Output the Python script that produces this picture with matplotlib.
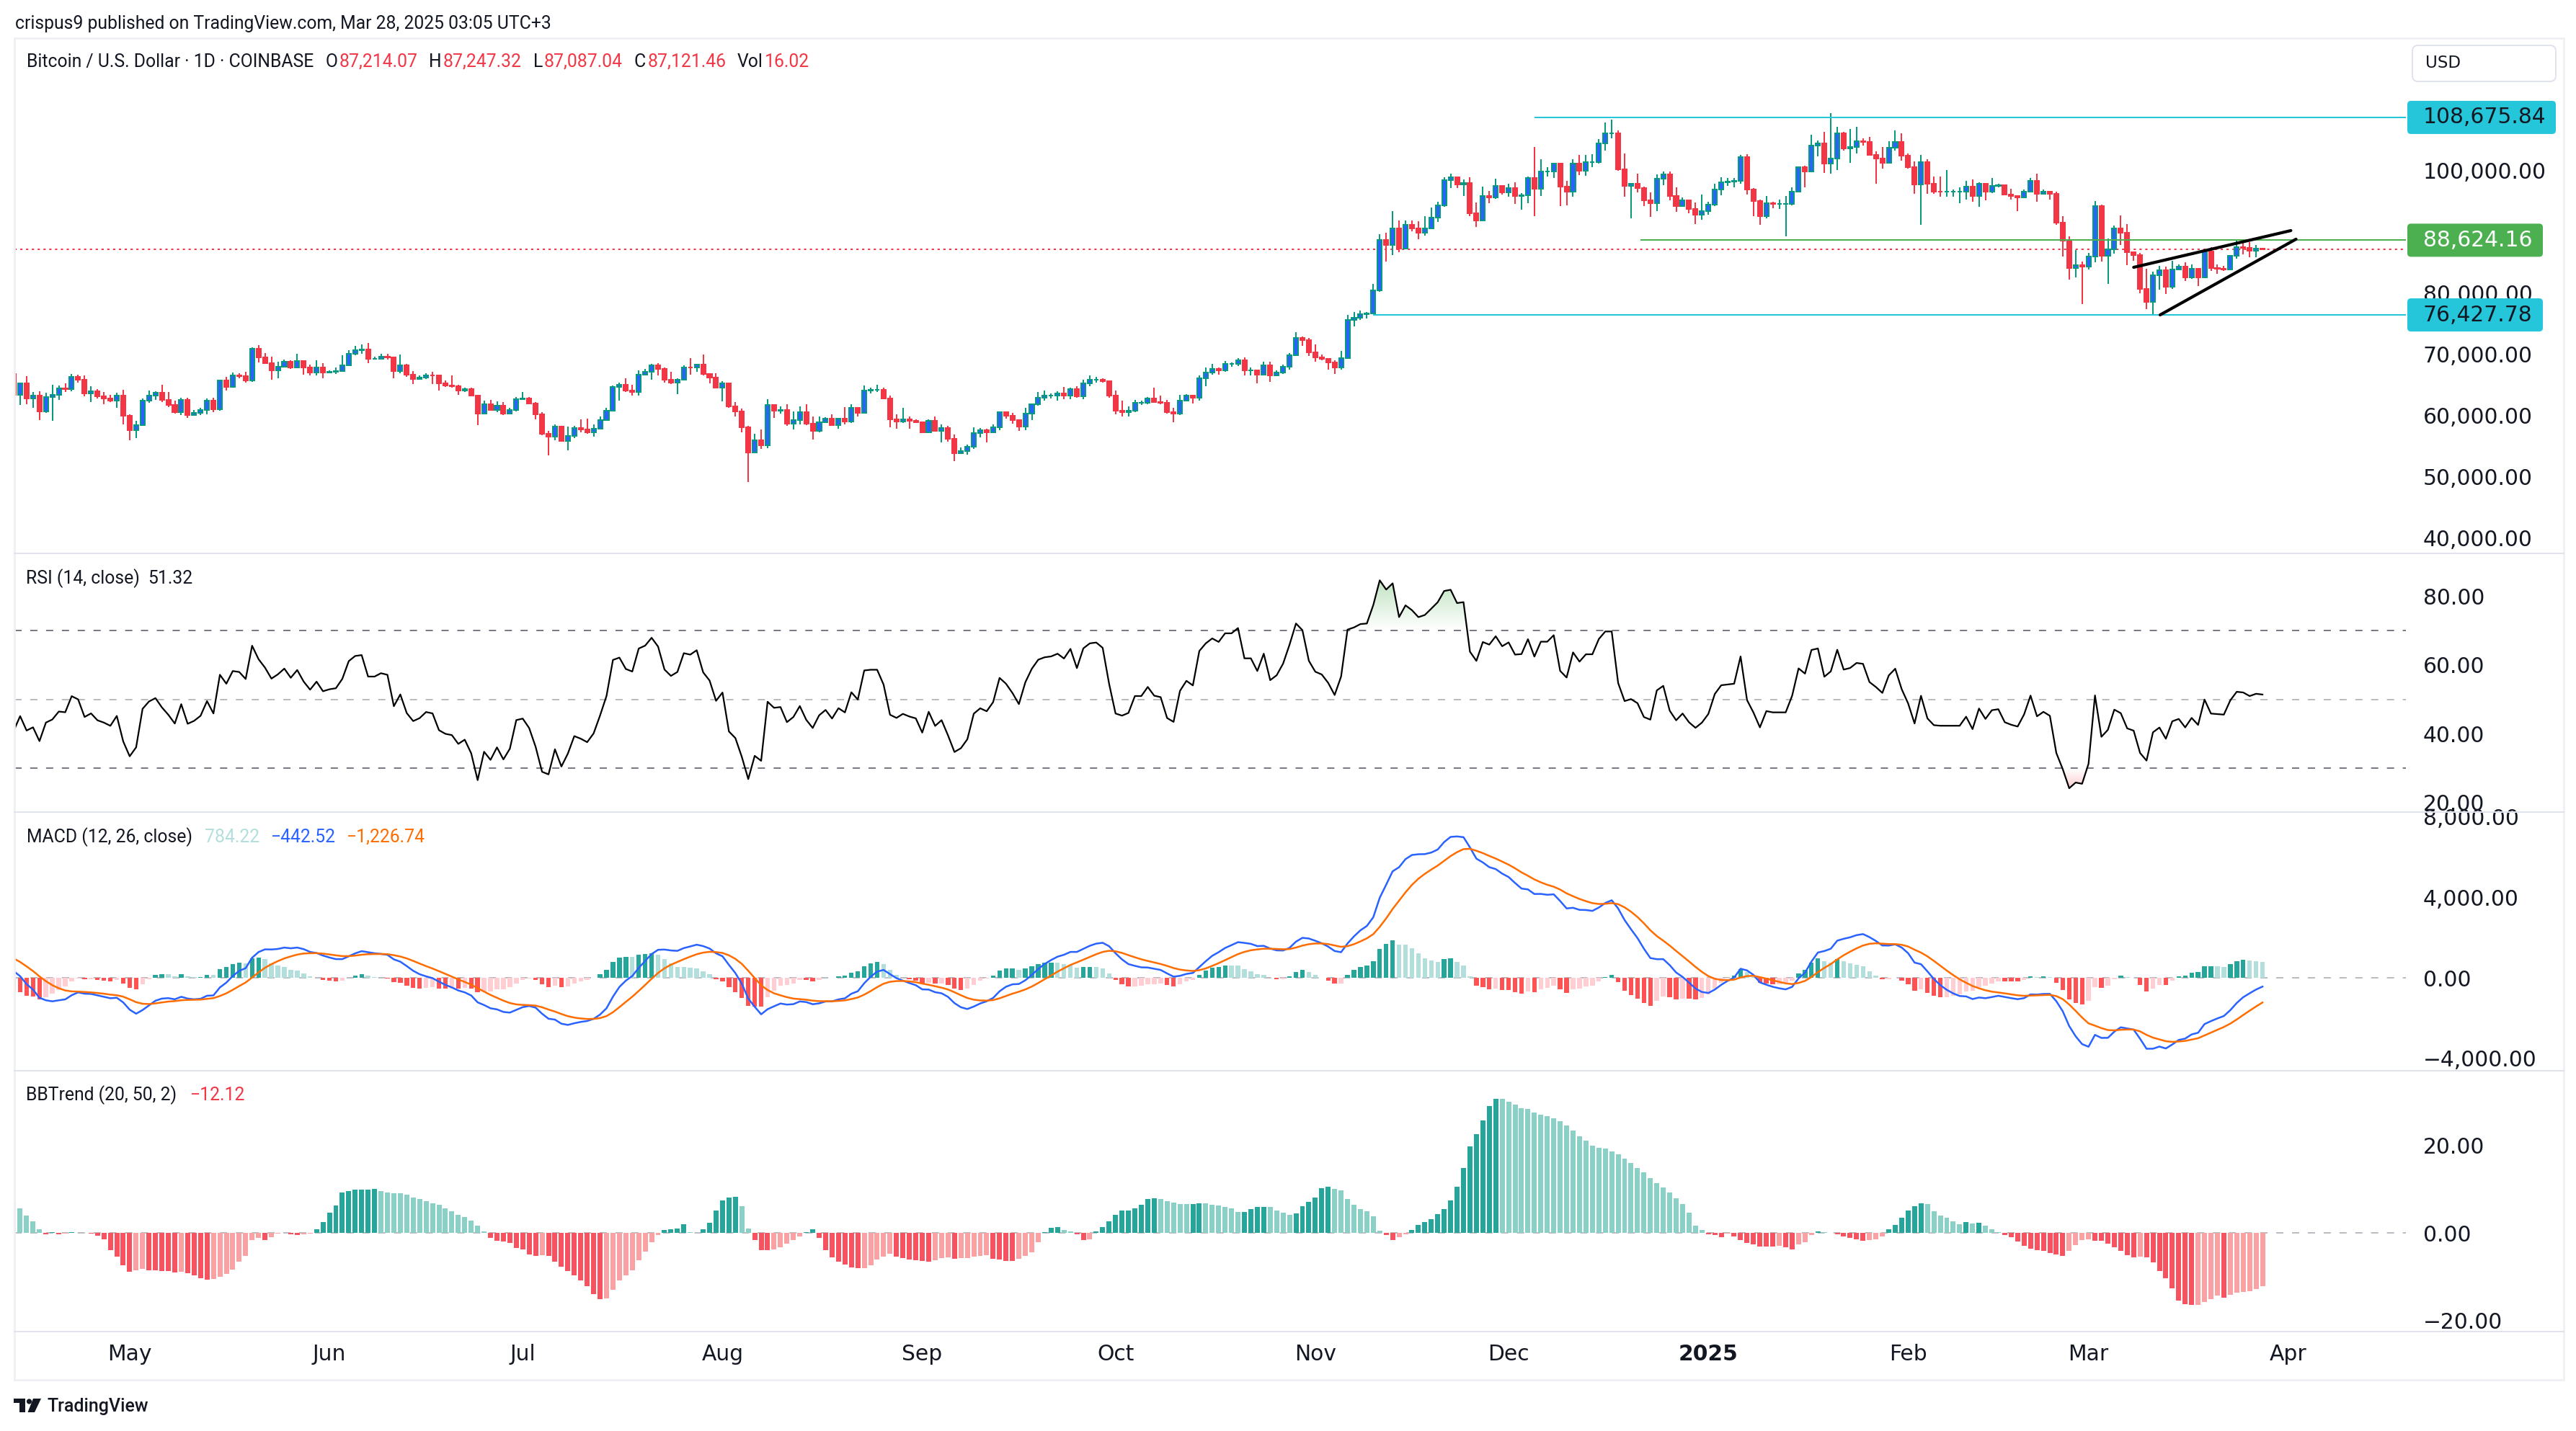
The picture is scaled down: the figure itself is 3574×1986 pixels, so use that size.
import numpy as np
import pandas as pd
import matplotlib
matplotlib.use("Agg")
import matplotlib.pyplot as plt
from matplotlib.patches import Rectangle, FancyBboxPatch, Polygon, Circle, PathPatch
from matplotlib.path import Path
from matplotlib.transforms import Affine2D
from matplotlib.ticker import FixedLocator, FuncFormatter
from matplotlib.colors import to_rgb

plt.rcParams['lines.scale_dashes'] = False

W, H, DPI = 3574, 1986, 200

# ---------------- data: BTC/USD daily, Coinbase, prices in thousands ----------------
first_day = '2024-04-13'

# closes before the visible window (Feb 22 - Apr 12 2024), only to warm up the indicators
warm_close = [51.3, 50.7, 51.6, 51.7, 54.5, 57.1, 62.5, 61.2,
              62.4, 62.0, 63.1, 68.3, 63.8, 66.1, 66.9, 68.3, 68.5, 69.0,
              72.1, 71.5, 73.1, 71.4, 69.5, 65.3, 68.4, 67.6, 61.9, 67.8,
              65.5, 63.8, 64.1, 67.2, 70.0, 69.9, 69.4, 71.3, 70.0, 69.6, 71.3,
              69.7, 65.5, 65.9, 68.5, 67.8, 68.9, 69.4, 71.6, 69.2, 70.6, 70.0, 66.8]

apr_c = [63.4, 65.3, 62.8, 63.2, 60.7, 63.0, 63.4, 64.4, 64.3, 66.3, 65.9, 63.6, 64.0, 63.1, 62.8, 62.4, 63.3, 60.0]
apr_h = [68.7, 65.4, 66.4, 63.9, 64.0, 63.7, 65.0, 64.9, 65.2, 66.8, 66.7, 66.5, 64.8, 64.3, 63.9, 63.4, 63.7, 64.2]
apr_l = [60.4, 61.7, 61.9, 61.2, 59.2, 60.4, 59.1, 62.6, 63.8, 64.0, 65.4, 63.1, 62.2, 62.8, 61.9, 62.2, 61.3, 58.6]

may_c = [57.6, 58.4, 62.4, 63.3, 63.7, 62.6, 61.7, 60.6, 62.6, 60.1, 60.4, 60.9, 62.4, 61.0, 65.7, 64.7,
         66.5, 66.4, 65.7, 70.9, 69.5, 68.6, 67.4, 68.0, 68.8, 67.9, 68.9, 67.8, 67.0, 67.9, 67.0]
may_h = [60.2, 59.1, 62.8, 64.1, 64.0, 65.0, 63.9, 62.4, 62.9, 62.9, 60.9, 61.3, 62.8, 62.9, 65.9, 66.3,
         67.0, 66.9, 67.2, 71.1, 71.5, 70.2, 69.6, 68.8, 69.1, 69.0, 70.1, 69.0, 68.3, 69.0, 68.5]
may_l = [56.0, 56.3, 58.4, 62.1, 62.5, 62.2, 61.4, 60.3, 60.1, 59.6, 60.0, 60.1, 60.2, 60.5, 60.8, 64.1,
         64.6, 66.1, 65.4, 65.5, 68.7, 68.4, 65.8, 66.1, 67.9, 67.6, 67.7, 66.7, 66.6, 66.6, 66.1]

jun_c = [67.2, 67.3, 68.2, 70.1, 70.7, 70.8, 69.3, 69.3, 69.6, 69.5, 67.3, 68.2, 66.7, 66.0, 66.2,
         66.6, 66.5, 65.2, 64.9, 64.8, 64.1, 64.3, 63.2, 60.3, 61.8, 60.9, 61.6, 60.3, 60.9, 62.7]
jun_h = [67.4, 67.9, 69.8, 70.7, 71.4, 71.6, 71.9, 69.6, 70.1, 70.1, 69.5, 70.0, 68.4, 67.3, 66.5,
         66.9, 67.2, 66.5, 65.7, 66.5, 65.0, 64.5, 64.5, 63.4, 62.4, 62.5, 62.3, 62.2, 61.2, 63.0]
jun_l = [66.9, 66.8, 67.1, 68.2, 69.9, 70.1, 68.5, 69.2, 69.2, 69.2, 66.1, 66.9, 66.3, 65.1, 65.9,
         66.0, 65.1, 64.1, 64.7, 64.5, 63.4, 63.9, 63.2, 58.4, 60.3, 60.8, 60.6, 60.1, 60.3, 60.7]

jul_c = [62.8, 62.0, 60.2, 57.0, 56.6, 58.2, 55.8, 56.7, 58.0, 57.7, 57.3, 57.9, 59.2, 60.8, 64.7, 65.0,
         64.1, 63.9, 66.7, 67.1, 68.2, 67.6, 65.9, 65.4, 65.8, 67.9, 67.8, 68.3, 66.8, 66.2, 64.6]
jul_h = [63.8, 63.0, 62.2, 60.5, 57.5, 58.5, 58.2, 58.2, 58.3, 59.4, 59.5, 58.5, 59.8, 61.3, 64.9, 65.4,
         66.1, 65.0, 67.4, 67.6, 68.4, 68.5, 67.8, 67.1, 66.1, 68.2, 69.4, 68.3, 70.0, 66.9, 66.9]
jul_l = [62.5, 61.8, 59.4, 56.8, 53.5, 56.0, 55.7, 54.3, 56.3, 57.2, 57.0, 56.5, 57.8, 59.4, 60.7, 62.4,
         63.9, 63.2, 63.3, 66.5, 65.8, 66.6, 65.4, 65.1, 63.5, 65.8, 66.7, 67.1, 66.6, 65.3, 64.5]

aug_c = [65.3, 61.5, 60.7, 58.1, 54.0, 56.0, 55.1, 61.7, 60.8, 60.9, 58.7, 59.3, 60.6, 58.7, 57.5, 58.9,
         59.5, 58.4, 59.5, 59.0, 61.2, 60.4, 64.1, 64.2, 64.2, 62.8, 59.4, 59.0, 59.4, 59.1, 58.9]
aug_h = [65.6, 65.0, 62.2, 61.1, 58.3, 57.0, 57.7, 62.7, 61.7, 61.5, 61.8, 60.7, 61.5, 61.8, 59.8, 59.8,
         59.7, 60.2, 59.6, 61.4, 61.8, 61.4, 64.9, 64.5, 65.0, 64.5, 63.2, 60.2, 61.2, 59.9, 59.4]
aug_l = [62.3, 61.2, 59.9, 57.2, 49.1, 54.0, 54.6, 54.7, 59.6, 60.3, 58.3, 57.7, 58.5, 58.4, 56.1, 57.3,
         58.8, 58.4, 57.8, 58.6, 58.8, 59.8, 60.4, 63.6, 63.8, 62.8, 58.1, 57.9, 58.8, 57.8, 58.8]

sep_c = [57.3, 59.1, 57.5, 58.0, 56.2, 53.9, 54.2, 54.9, 57.1, 57.6, 57.3, 58.1, 60.5, 60.0, 59.2,
         58.2, 60.3, 61.8, 62.9, 63.2, 63.3, 63.6, 63.3, 64.3, 63.1, 65.2, 65.8, 65.9, 65.6, 63.3]
sep_h = [59.0, 59.4, 59.8, 58.5, 58.3, 56.9, 54.8, 55.3, 58.1, 58.0, 57.9, 58.6, 60.6, 60.6, 60.4,
         59.2, 61.3, 61.8, 63.8, 64.1, 63.6, 64.0, 64.7, 64.5, 64.8, 65.8, 66.5, 66.3, 66.1, 65.6]
sep_l = [57.2, 57.2, 57.4, 55.6, 55.7, 52.6, 53.7, 53.6, 54.6, 56.4, 55.6, 57.4, 57.6, 59.5, 58.7,
         57.5, 57.6, 59.2, 61.6, 62.4, 62.8, 62.4, 62.7, 62.7, 62.9, 62.7, 64.8, 65.4, 65.4, 62.9]

oct_c = [60.8, 60.6, 60.8, 62.1, 62.1, 62.8, 62.2, 62.1, 60.6, 60.3, 62.4, 63.2, 62.9, 66.1, 67.0, 67.6,
         67.4, 68.4, 68.4, 69.0, 67.4, 67.4, 66.7, 68.2, 66.6, 67.0, 68.0, 69.9, 72.7, 72.3, 70.3]
oct_h = [64.1, 62.4, 61.5, 62.5, 62.4, 63.0, 64.5, 63.2, 62.5, 61.3, 63.4, 63.5, 63.3, 66.5, 67.9, 68.4,
         67.9, 68.9, 68.7, 69.4, 69.5, 67.8, 67.5, 68.8, 68.8, 67.4, 68.3, 70.2, 73.6, 72.9, 72.7]
oct_l = [60.2, 59.9, 59.8, 60.5, 61.7, 61.8, 62.1, 61.8, 60.3, 58.9, 60.1, 62.4, 62.0, 62.4, 64.8, 66.7,
         66.7, 67.2, 68.0, 68.1, 66.6, 66.6, 65.3, 66.6, 65.5, 66.5, 66.8, 67.5, 69.7, 71.4, 69.7]

nov_c = [69.5, 69.3, 68.7, 67.8, 69.4, 75.6, 76.0, 76.6, 76.7, 80.4, 88.7, 87.9, 90.5, 87.3, 91.1,
         90.6, 89.9, 90.5, 92.3, 94.3, 98.4, 98.9, 97.7, 98.0, 93.0, 91.9, 95.9, 95.6, 97.5, 96.4]
nov_h = [71.6, 70.0, 69.4, 69.0, 70.6, 76.4, 76.9, 77.2, 76.9, 81.5, 89.6, 89.9, 93.4, 91.8, 91.9,
         91.8, 91.7, 92.6, 94.0, 94.9, 98.9, 99.5, 98.8, 98.6, 98.9, 94.8, 97.4, 96.7, 98.7, 97.5]
nov_l = [68.8, 69.0, 67.5, 66.8, 67.5, 69.4, 74.5, 75.6, 75.8, 76.5, 80.2, 85.1, 86.2, 86.7, 87.1,
         90.1, 88.8, 89.4, 90.4, 91.6, 94.1, 97.2, 97.2, 95.8, 92.6, 90.8, 91.8, 94.7, 95.4, 96.1]

dec_c = [97.2, 95.9, 96.0, 98.8, 97.0, 99.9, 99.9, 101.2, 97.4, 96.6, 101.1, 100.0, 101.4, 101.4, 104.4, 106.1,
         106.1, 100.2, 97.5, 97.8, 97.2, 95.1, 94.7, 98.7, 99.4, 95.8, 94.2, 95.1, 93.7, 92.8, 93.4]
dec_h = [97.9, 98.1, 96.3, 99.0, 103.9, 101.9, 100.5, 101.3, 101.2, 98.3, 101.9, 102.5, 102.6, 102.7, 105.1, 107.8,
         108.3, 106.5, 102.8, 98.0, 99.5, 97.4, 96.4, 99.4, 99.9, 99.9, 97.3, 95.6, 95.2, 94.8, 96.1]
dec_l = [95.7, 94.5, 93.6, 94.7, 92.5, 95.9, 99.0, 98.8, 94.2, 94.3, 95.7, 99.3, 99.2, 100.6, 101.2, 103.3,
         105.3, 100.0, 95.7, 92.2, 96.4, 94.2, 92.4, 93.4, 97.6, 95.2, 93.3, 94.1, 93.0, 91.3, 92.0]

jan_c = [94.4, 96.9, 98.1, 98.2, 98.3, 102.2, 96.9, 95.0, 92.5, 94.7, 94.5, 94.5, 94.5, 96.5, 100.5, 99.9,
         104.1, 104.4, 101.1, 102.0, 106.1, 103.6, 103.9, 104.8, 104.7, 102.6, 102.0, 101.3, 103.7, 104.7, 102.4]
jan_h = [94.9, 97.8, 98.9, 98.8, 98.8, 102.5, 102.7, 97.2, 95.3, 95.8, 94.9, 95.3, 95.9, 97.3, 100.7, 100.8,
         105.9, 104.9, 106.3, 109.4, 107.2, 106.3, 106.8, 107.1, 105.3, 105.5, 103.2, 103.8, 104.8, 106.5, 106.1]
jan_l = [92.8, 94.2, 96.0, 97.5, 97.3, 97.9, 96.1, 92.5, 91.2, 92.2, 93.8, 93.7, 89.3, 94.3, 96.4, 97.3,
         100.0, 102.3, 99.6, 99.5, 100.1, 103.3, 101.3, 102.8, 104.1, 102.5, 97.8, 100.3, 101.3, 103.3, 101.6]

feb_c = [100.6, 97.7, 101.4, 97.8, 96.6, 96.5, 96.5, 96.5, 96.5, 97.4, 95.8, 97.9, 96.6, 97.5,
         97.6, 96.1, 95.8, 95.6, 96.6, 98.3, 96.2, 96.6, 96.2, 91.5, 88.6, 84.1, 84.6, 84.3]
feb_h = [102.8, 101.5, 102.5, 101.8, 99.0, 99.0, 100.1, 96.9, 97.3, 98.3, 98.5, 98.1, 98.0, 98.8,
         97.9, 97.7, 97.0, 96.0, 96.9, 98.8, 99.5, 96.9, 96.5, 96.5, 92.5, 89.3, 87.0, 85.1]
feb_l = [100.3, 96.2, 91.2, 96.2, 96.2, 95.7, 95.7, 95.7, 94.7, 95.3, 94.9, 94.1, 95.2, 96.3,
         97.3, 96.1, 95.3, 93.4, 95.6, 96.4, 94.9, 96.2, 95.3, 91.2, 86.0, 82.2, 82.6, 78.2]

mar_c = [86.0, 94.2, 86.1, 87.2, 90.6, 89.9, 86.7, 86.2, 80.7, 78.5, 82.9, 83.7, 81.0, 83.9,
         84.3, 82.5, 84.0, 82.6, 86.8, 84.1, 84.0, 83.9, 86.1, 87.5, 87.4, 86.9, 87.21407, 87.12146]
mar_h = [86.6, 95.0, 94.4, 88.9, 91.0, 92.7, 91.3, 86.8, 86.5, 84.0, 83.5, 84.4, 84.3, 85.3,
         84.7, 85.0, 84.7, 84.0, 87.1, 87.5, 84.7, 84.4, 86.2, 88.8, 88.6, 88.3, 87.8, 87.24732]
mar_l = [83.8, 85.0, 85.1, 81.5, 86.4, 87.8, 84.6, 85.3, 80.0, 77.4, 76.5, 80.6, 79.9, 80.7,
         83.7, 82.0, 82.3, 81.2, 82.6, 83.6, 83.1, 83.6, 83.8, 85.6, 86.3, 85.9, 85.9, 87.08704]

# levels drawn on the chart by the author
res_level = 108675.84
mid_level = 88624.16
sup_level = 76427.78
last_price = 87121.46
# rising wedge: (day index, price) end points
wedge_upper = [(329.0, 84200), (353.4, 90200)]
wedge_lower = [(333.1, 76427.78), (354.2, 88800)]

# ---------------- series ----------------
months_c = [apr_c, may_c, jun_c, jul_c, aug_c, sep_c, oct_c, nov_c, dec_c, jan_c, feb_c, mar_c]
months_h = [apr_h, may_h, jun_h, jul_h, aug_h, sep_h, oct_h, nov_h, dec_h, jan_h, feb_h, mar_h]
months_l = [apr_l, may_l, jun_l, jul_l, aug_l, sep_l, oct_l, nov_l, dec_l, jan_l, feb_l, mar_l]
c = np.concatenate(months_c) * 1000
hi = np.concatenate(months_h) * 1000
lo = np.concatenate(months_l) * 1000
o = np.concatenate([[warm_close[-1] * 1000], c[:-1]])
hi = np.maximum(hi, np.maximum(o, c))
lo = np.minimum(lo, np.minimum(o, c))
n = len(c)
t = np.arange(n)

full = pd.Series(np.concatenate([np.array(warm_close) * 1000, c]))
d = full.diff()
up_m = d.clip(lower=0).ewm(alpha=1 / 14, adjust=False).mean()
dn_m = (-d.clip(upper=0)).ewm(alpha=1 / 14, adjust=False).mean()
rsi = (100 - 100 / (1 + up_m / dn_m)).values[-n:]

macd_full = full.ewm(span=12, adjust=False).mean() - full.ewm(span=26, adjust=False).mean()
sig_full = macd_full.ewm(span=9, adjust=False).mean()
hist_full = macd_full - sig_full
macd = macd_full.values[-n:]
sig = sig_full.values[-n:]
hist = hist_full.values[-n:]
hist_prev = hist_full.shift(1).values[-n:]


def bands(k):
    m = full.rolling(k).mean()
    s = full.rolling(k).std(ddof=0)
    return m, m - 2 * s, m + 2 * s


m20, lo20, up20 = bands(20)
m50, lo50, up50 = bands(50)
bbt_full = ((lo20 - lo50).abs() - (up20 - up50).abs()) / m20 * 100
bbt = bbt_full.values[-n:]
bbt_prev = bbt_full.shift(1).values[-n:]

# ---------------- look ----------------
INK = '#131722'
TEAL = '#089981'
BLUE = '#2962FF'
RED = '#F23645'
CYAN = '#26C6DA'
GREEN = '#4CAF50'
GREY = '#787B86'
SEP = '#E0E3EB'
XL = ((20 - 19) / 8.94, (3338 - 19) / 8.94)
LEG = 8.9

fig = plt.figure(figsize=(W / DPI, H / DPI), dpi=DPI, facecolor='white')
px = Affine2D().scale(1 / W, -1 / H).translate(0, 1) + fig.transFigure


def pane(top, bot, ylim, ticks):
    ax = fig.add_axes([20 / W, 1 - bot / H, (3338 - 20) / W, (bot - top) / H])
    for sp in ax.spines.values():
        sp.set_visible(False)
    ax.set_xlim(XL)
    ax.set_ylim(ylim)
    ax.yaxis.tick_right()
    ax.yaxis.set_major_locator(FixedLocator(ticks))
    ax.yaxis.set_major_formatter(FuncFormatter(lambda v, p: f'{v:,.2f}'.replace('-', '\u2212')))
    ax.tick_params(axis='y', length=0, pad=8.6, labelsize=10.7, labelcolor=INK)
    ax.tick_params(axis='x', length=0, labelbottom=False)
    return ax


ax_p = pane(53, 768, (37494, 121612), np.arange(40000, 110001, 10000))
ax_r = pane(768, 1127, (17.28, 92.34), [20, 40, 60, 80])
ax_m = pane(1127, 1486, (-4620, 8240), [-4000, 0, 4000, 8000])
ax_b = pane(1486, 1848, (-22.46, 36.9), [-20, 0, 20])

# ---- candles ----
up = c >= o
ax_p.vlines(t[up], lo[up], hi[up], color=TEAL, lw=0.72, zorder=2)
ax_p.vlines(t[~up], lo[~up], hi[~up], color=RED, lw=0.72, zorder=2)
ax_p.bar(t[up], (c - o)[up], bottom=o[up], width=0.68, color=BLUE, edgecolor=TEAL, linewidth=0.72, zorder=3)
ax_p.bar(t[~up], (o - c)[~up], bottom=c[~up], width=0.68, color=RED, edgecolor=RED, linewidth=0.72, zorder=3)

ax_p.axhline(last_price, color=RED, lw=0.72, dashes=(1.1, 1.8), zorder=1)
ax_p.hlines(res_level, 236, XL[1], color=CYAN, lw=0.72, zorder=4)
ax_p.hlines(mid_level, 252.5, XL[1], color=GREEN, lw=0.72, zorder=4)
ax_p.hlines(sup_level, 211, XL[1], color=CYAN, lw=0.72, zorder=4)
for seg in (wedge_upper, wedge_lower):
    ax_p.plot([seg[0][0], seg[1][0]], [seg[0][1], seg[1][1]], color='black', lw=1.5,
              solid_capstyle='round', zorder=5)


# ---- RSI ----
def grad_fill(ax, y, base, edge, color, amax):
    where = y > base if edge > base else y < base
    coll = ax.fill_between(t, y, base, where=where, interpolate=True, facecolor='none', edgecolor='none')
    paths = coll.get_paths()
    if not paths:
        return
    patch = PathPatch(Path.make_compound_path(*paths), transform=ax.transData,
                      facecolor='none', edgecolor='none')
    ax.add_patch(patch)
    img = np.zeros((256, 1, 4))
    img[..., :3] = to_rgb(color)
    lo_v, hi_v = min(base, edge), max(base, edge)
    if edge > base:
        img[:, 0, 3] = np.linspace(amax, 0, 256)
    else:
        img[:, 0, 3] = np.linspace(0, amax, 256)
    im = ax.imshow(img, extent=[0, n, lo_v, hi_v], aspect='auto', origin='upper', zorder=1)
    im.set_clip_path(patch)


grad_fill(ax_r, rsi, 70, np.nanmax(rsi), '#4CAF50', 0.35)
grad_fill(ax_r, rsi, 30, np.nanmin(rsi), '#F23645', 0.25)
ax_r.set_xlim(XL)
ax_r.set_ylim(17.28, 92.34)
ax_r.axhline(70, color=GREY, lw=0.72, dashes=(3.6, 4.3))
ax_r.axhline(50, color=GREY, lw=0.72, dashes=(3.6, 4.3), alpha=0.5)
ax_r.axhline(30, color=GREY, lw=0.72, dashes=(3.6, 4.3))
ax_r.plot(t, rsi, color='black', lw=0.8, zorder=3)

# ---- MACD ----
mcol = np.where(hist >= 0, np.where(hist > hist_prev, '#26A69A', '#B2DFDB'),
                np.where(hist > hist_prev, '#FFCDD2', '#FF5252'))
ax_m.axhline(0, color=GREY, lw=0.72, dashes=(3.6, 4.3), alpha=0.5)
ax_m.bar(t, hist, width=0.72, color=mcol, zorder=2)
ax_m.plot(t, macd, color=BLUE, lw=0.9, zorder=3)
ax_m.plot(t, sig, color='#FF6D00', lw=0.9, zorder=3)

# ---- BBTrend ----
bcol = np.where(bbt >= 0, np.where(bbt > bbt_prev, '#26A69A', '#8BD0C6'),
                np.where(bbt < bbt_prev, '#F7525F', '#FAA1A4'))
ax_b.axhline(0, color=GREY, lw=0.72, dashes=(3.6, 4.3), alpha=0.5)
ax_b.bar(t, bbt, width=0.78, color=bcol, zorder=2)

# ---- time axis ----
month_starts = pd.date_range('2024-05-01', '2025-04-01', freq='MS')
tick_t = (month_starts - pd.Timestamp(first_day)).days
tick_lab = [str(m.year) if m.month == 1 else m.strftime('%b') for m in month_starts]
ax_b.xaxis.set_major_locator(FixedLocator(tick_t))
ax_b.set_xticklabels(tick_lab)
ax_b.tick_params(axis='x', labelbottom=True, pad=6, labelsize=10.7, labelcolor=INK)
for lab, m in zip(ax_b.get_xticklabels(), month_starts):
    if m.month == 1:
        lab.set_fontweight('bold')

# ---- frame, separators ----
fig.add_artist(Rectangle((20, 53), 3537, 1862, transform=px, fill=False, edgecolor='#EEF0F3', lw=1.0))
for yy in (768, 1127, 1486, 1848):
    fig.add_artist(plt.Line2D([20, 3557], [yy, yy], transform=px, color=SEP, lw=0.72))


# ---- price tags on the right scale ----
def tag(val, txt, face, fg, right):
    y = H - ax_p.transData.transform((0, val))[1]
    fig.add_artist(FancyBboxPatch((3340, y - 23), right - 3340, 46, transform=px,
                                  boxstyle='round,pad=0,rounding_size=5', facecolor=face, edgecolor='none'))
    fig.text(3362, y, txt, transform=px, va='center', ha='left', fontsize=10.7, color=fg)


tag(res_level, f'{res_level:,.2f}', CYAN, INK, 3546)
tag(mid_level, f'{mid_level:,.2f}', GREEN, 'white', 3528)
tag(sup_level, f'{sup_level:,.2f}', CYAN, INK, 3528)

fig.add_artist(FancyBboxPatch((3347, 63), 199, 50, transform=px, boxstyle='round,pad=0,rounding_size=8',
                              facecolor='white', edgecolor=SEP, lw=0.7))
fig.text(3365, 88, 'USD', transform=px, va='center', ha='left', fontsize=8.3, color=INK)

# ---- legends ----
renderer = fig.canvas.get_renderer()


def legend(x, y, parts):
    for s, col, gap in parts:
        tx = fig.text(x, y, s, transform=px, va='center', ha='left', fontsize=LEG,
                      family='Roboto', color=col)
        x = tx.get_window_extent(renderer).x1 + gap


legend(37, 86, [('Bitcoin / U.S. Dollar \u00b7 1D \u00b7 COINBASE', INK, 16),
                ('O', INK, 2), ('87,214.07', RED, 16),
                ('H', INK, 2), ('87,247.32', RED, 16),
                ('L', INK, 2), ('87,087.04', RED, 16),
                ('C', INK, 2), ('87,121.46', RED, 16),
                ('Vol', INK, 2), ('16.02', RED, 0)])
legend(36, 803, [('RSI (14, close)', INK, 11), ('51.32', INK, 0)])
legend(37, 1162, [('MACD (12, 26, close)', INK, 17), ('784.22', '#B2DFDB', 16),
                  ('\u2212442.52', BLUE, 15), ('\u22121,226.74', '#FF6D00', 0)])
legend(36, 1520, [('BBTrend (20, 50, 2)', INK, 19), ('\u221212.12', RED, 0)])

fig.text(21, 33, 'crispus9 published on TradingView.com, Mar 28, 2025 03:05 UTC+3', transform=px,
         va='center', ha='left', fontsize=LEG, family='Roboto', color=INK)

# ---- footer logo ----
for shape in (Polygon([(19, 1941), (35, 1941), (35, 1960), (27, 1960), (27, 1947), (19, 1947)]),
              Circle((40.5, 1945), 3.6),
              Polygon([(46, 1941), (57, 1941), (48, 1960), (38.5, 1960)])):
    shape.set_transform(px)
    shape.set_facecolor(INK)
    shape.set_edgecolor('none')
    fig.add_artist(shape)
fig.text(66, 1952, 'TradingView', transform=px, va='center', ha='left', fontsize=9,
         family='Roboto', fontweight='medium', color=INK)

fig.savefig('out.png', dpi=DPI, facecolor='white')
